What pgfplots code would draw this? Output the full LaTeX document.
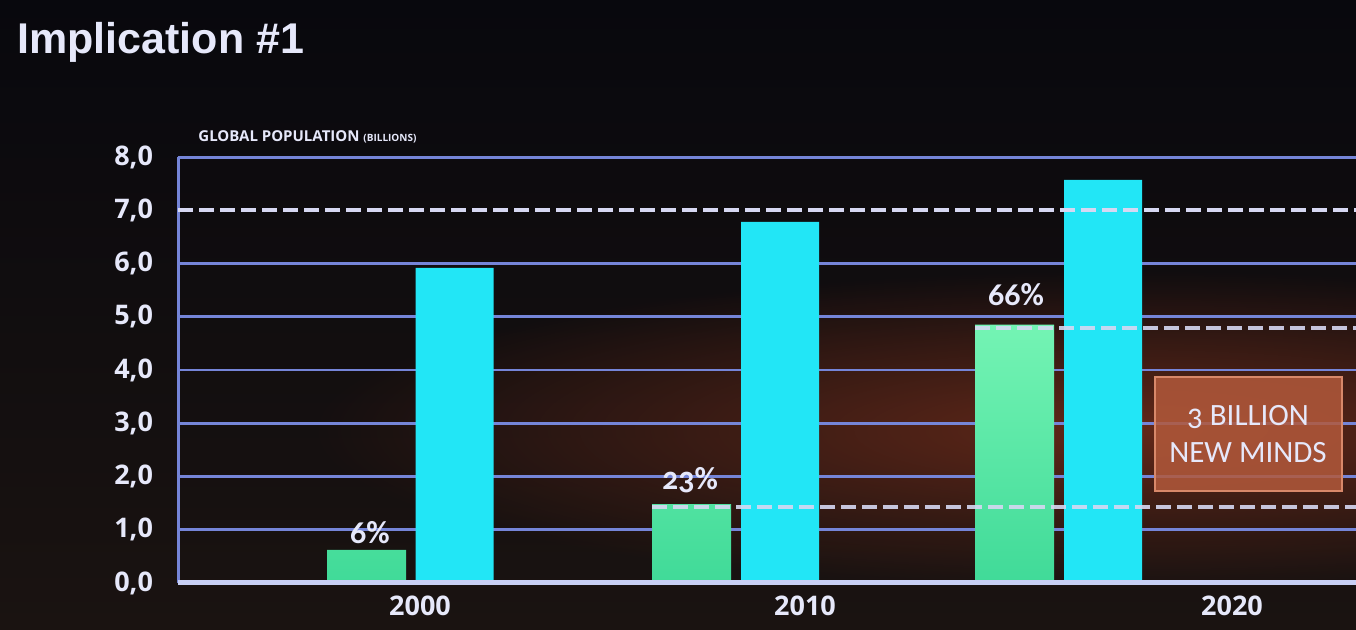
\documentclass[border=0pt]{standalone}
\usepackage{fontspec}
\setmainfont{Open Sans}
\newfontfamily\titlefont{Liberation Sans}
\newfontfamily\boxfont[Numbers=OldStyle]{Carlito}
\usepackage{pgfplots}
\pgfplotsset{compat=1.18}
\usetikzlibrary{fadings}
\tikzfading[name=myglow, inner color=transparent!0, outer color=transparent!100]
\definecolor{bgtop}{HTML}{08080D}
\definecolor{bgbot}{HTML}{1A1311}
\definecolor{gridc}{HTML}{7585D8}
\definecolor{axisc}{HTML}{C8CFF5}
\definecolor{dashc}{HTML}{D6D8F2}
\definecolor{greenT}{HTML}{74F4B4}
\definecolor{greenB}{HTML}{40DA98}
\definecolor{cyanb}{HTML}{22E6F6}
\definecolor{glow}{HTML}{622819}
\definecolor{boxc}{HTML}{B2593B}
\definecolor{boxb}{HTML}{D8886A}
\definecolor{txt}{HTML}{E6E8FA}
\begin{document}
\begin{tikzpicture}[x=0.5pt,y=0.5pt]
\useasboundingbox (0,0) rectangle (1356,630);
\shade[top color=bgtop, bottom color=bgbot] (0,0) rectangle (1356,630);
\fill[glow, path fading=myglow] (1130,200) ellipse (820 and 160);
\node[anchor=base west, font=\titlefont\bfseries\fontsize{21.5}{24}\selectfont, text=txt, inner sep=0] at (17,576) {Implication \#1};
\begin{axis}[at={(89pt,23.5pt)}, anchor=south west, scale only axis,
  width=589pt, height=213pt, xmin=178, xmax=1356, ymin=0, ymax=8,
  axis line style={draw=none}, clip=false,
  ytick={0,1,...,8}, xtick={420,805,1232}, xticklabels={2000,2010,2020},
  major tick length=0pt,
  tick label style={font=\bfseries\fontsize{13.5}{15}\selectfont, text=txt},
  yticklabel style={xshift=-9pt, /pgf/number format/.cd, fixed, fixed zerofill, precision=1, use comma, assume math mode=true},
  xticklabel style={yshift=-3pt},
]
\pgfplotsinvokeforeach{1,...,6}{\draw[gridc, line width=1.3pt] (axis cs:178,#1) -- (axis cs:1356,#1);}
\draw[gridc, line width=1.5pt] (axis cs:178,8) -- (axis cs:1356,8);
\draw[gridc, line width=1.5pt] (axis cs:178,0) -- (axis cs:178,8);
\addplot[ybar, bar width=79, bar shift=0pt, draw=none, top color=greenT, bottom color=greenB] coordinates {(366.5,0.62) (691.5,1.48) (1014.5,4.85)};
\addplot[ybar, bar width=78, bar shift=0pt, draw=none, fill=cyanb] coordinates {(454.5,5.92) (780,6.78) (1103,7.57)};
\draw[axisc, line width=2.5pt] (axis cs:178,0) -- (axis cs:1356,0);
\draw[dashc, line width=2pt, dash pattern=on 7.5pt off 3pt] (axis cs:178,7) -- (axis cs:1356,7);
\draw[dashc, line width=2pt, dash pattern=on 7.5pt off 3pt, opacity=0.9] (axis cs:975,4.79) -- (axis cs:1356,4.79);
\draw[dashc, line width=2pt, dash pattern=on 7.5pt off 3pt, opacity=0.9] (axis cs:652,1.43) -- (axis cs:1356,1.43);
\draw[boxb, line width=1pt, fill=boxc, fill opacity=0.85] (axis cs:1155,1.73) rectangle (axis cs:1342,3.87);
\node[font=\boxfont\fontsize{15.5}{18.5}\selectfont, text=txt, align=center] at (axis cs:1248,2.8) {3 BILLION\\NEW MINDS};
\node[font=\boxfont\bfseries\fontsize{16}{18}\selectfont, text=txt] at (axis cs:370,0.94) {6\%};
\node[font=\boxfont\bfseries\fontsize{16}{18}\selectfont, text=txt] at (axis cs:690,1.93) {23\%};
\node[font=\boxfont\bfseries\fontsize{16}{18}\selectfont, text=txt] at (axis cs:1016,5.41) {66\%};
\node[anchor=west, font=\bfseries\fontsize{7.5}{8}\selectfont, text=txt, inner sep=0] at (axis cs:198,8.38) {GLOBAL POPULATION {\fontsize{5}{5}\selectfont(BILLIONS)}};
\end{axis}
\end{tikzpicture}
\end{document}
